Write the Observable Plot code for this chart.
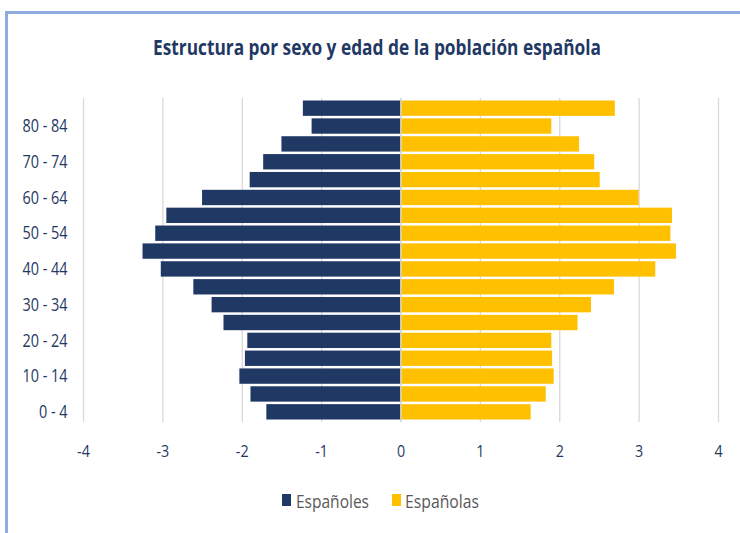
<!DOCTYPE html>
<html>
<head>
<meta charset="utf-8">
<script src="https://cdn.jsdelivr.net/npm/d3@7"></script>
<script src="https://cdn.jsdelivr.net/npm/@observablehq/plot@0.6"></script>
<style>
  html, body { margin: 0; padding: 0; background: #fff; }
  #page { position: relative; width: 740px; height: 533px; overflow: hidden; background: #fff;
          font-family: "Open Sans", "DejaVu Sans", sans-serif; }
  #frame { position: absolute; left: 5px; top: 11px; width: 740px; height: 530px;
           border-top: 3px solid #8faadc; border-left: 3px solid #8faadc; box-sizing: border-box; }
  #title { position: absolute; top: 31px; white-space: nowrap; line-height: normal;
           font-weight: bold; font-size: 22px; color: #1f3864; transform-origin: 0 0; }
  #chart { position: absolute; left: 0; top: 80px; }
  .leg { position: absolute; top: 489px; font-size: 18px; color: #595959; white-space: nowrap;
         line-height: normal; transform-origin: 0 0; }
  .sw { position: absolute; width: 9px; height: 12px; top: 494px; }
</style>
</head>
<body>
<div id="page">
  <div id="frame"></div>
  <div id="title">Estructura por sexo y edad de la población española</div>
  <div id="chart"></div>
  <div class="sw" id="sw1"></div><div class="leg" id="lg1"></div>
  <div class="sw" id="sw2"></div><div class="leg" id="lg2"></div>
</div>
<script>
const ages = ["0 - 4","5 - 9","10 - 14","15 - 19","20 - 24","25 - 29","30 - 34","35 - 39","40 - 44",
              "45 - 49","50 - 54","55 - 59","60 - 64","65 - 69","70 - 74","75 - 79","80 - 84","85 +"];
const men   = [-1.69,-1.89,-2.03,-1.96,-1.93,-2.23,-2.38,-2.61,-3.02,-3.25,-3.09,-2.95,-2.50,-1.90,-1.73,-1.50,-1.12,-1.23];
const women = [ 1.64, 1.83, 1.93, 1.91, 1.90, 2.23, 2.40, 2.69, 3.21, 3.47, 3.40, 3.42, 3.00, 2.51, 2.44, 2.25, 1.90, 2.70];
const yTickLabels = ["0 - 4","10 - 14","20 - 24","30 - 34","40 - 44","50 - 54","60 - 64","70 - 74","80 - 84"];
const xTicks = [-4,-3,-2,-1,0,1,2,3,4];
const seriesNames = ["Españoles","Españolas"];
const colors = ["#203864","#ffc000"];

const menData = ages.map((a, i) => ({age: a, value: men[i]}));
const womenData = ages.map((a, i) => ({age: a, value: women[i]}));

const chart = Plot.plot({
  width: 740,
  height: 390,
  marginTop: 18,
  marginBottom: 48,
  marginLeft: 83,
  marginRight: 22,
  style: {fontFamily: '"Open Sans", "DejaVu Sans", sans-serif', fontSize: "16px", color: "#1f3864", background: "transparent"},
  x: {domain: [-4, 4]},
  y: {domain: ages.slice().reverse(), padding: 0.14, round: false},
  marks: [
    Plot.ruleX(xTicks, {stroke: "#d9d9d9", strokeWidth: 1.3}),
    Plot.barX(menData, {y: "age", x1: 0, x2: "value", fill: colors[0]}),
    Plot.barX(womenData, {y: "age", x1: 0, x2: "value", fill: colors[1]}),
    Plot.ruleX([0], {stroke: "#d9d9d9", strokeWidth: 1.3}),
    Plot.axisY({ticks: yTickLabels, tickSize: 0, tickPadding: 16, fontSize: 18, fill: "#1f3864", label: null}),
    Plot.axisX({ticks: xTicks, tickFormat: d => String(d), tickSize: 0, tickPadding: 22, fontSize: 17, fill: "#1f3864", label: null})
  ]
});
document.getElementById("chart").appendChild(chart);

// condense tick labels horizontally (reference uses a narrow face)
chart.querySelectorAll('g[aria-label="y-axis tick label"] text').forEach(t => {
  const w = t.getComputedTextLength();
  t.setAttribute("textLength", (w * 0.80).toFixed(2));
  t.setAttribute("lengthAdjust", "spacingAndGlyphs");
});
chart.querySelectorAll('g[aria-label="x-axis tick label"] text').forEach(t => {
  const w = t.getComputedTextLength();
  t.setAttribute("textLength", (w * 0.84).toFixed(2));
  t.setAttribute("lengthAdjust", "spacingAndGlyphs");
});

function fit(el, left, width) {
  const w = el.getBoundingClientRect().width;
  el.style.left = left + "px";
  el.style.transform = "scaleX(" + (width / w) + ")";
}
const title = document.getElementById("title");
fit(title, 153, 448);

const sw1 = document.getElementById("sw1"), sw2 = document.getElementById("sw2");
const lg1 = document.getElementById("lg1"), lg2 = document.getElementById("lg2");
sw1.style.left = "282px"; sw1.style.background = colors[0];
sw2.style.left = "392px"; sw2.style.background = colors[1];
lg1.textContent = seriesNames[0];
lg2.textContent = seriesNames[1];
fit(lg1, 296, 73);
fit(lg2, 405, 74);
</script>
</body>
</html>
